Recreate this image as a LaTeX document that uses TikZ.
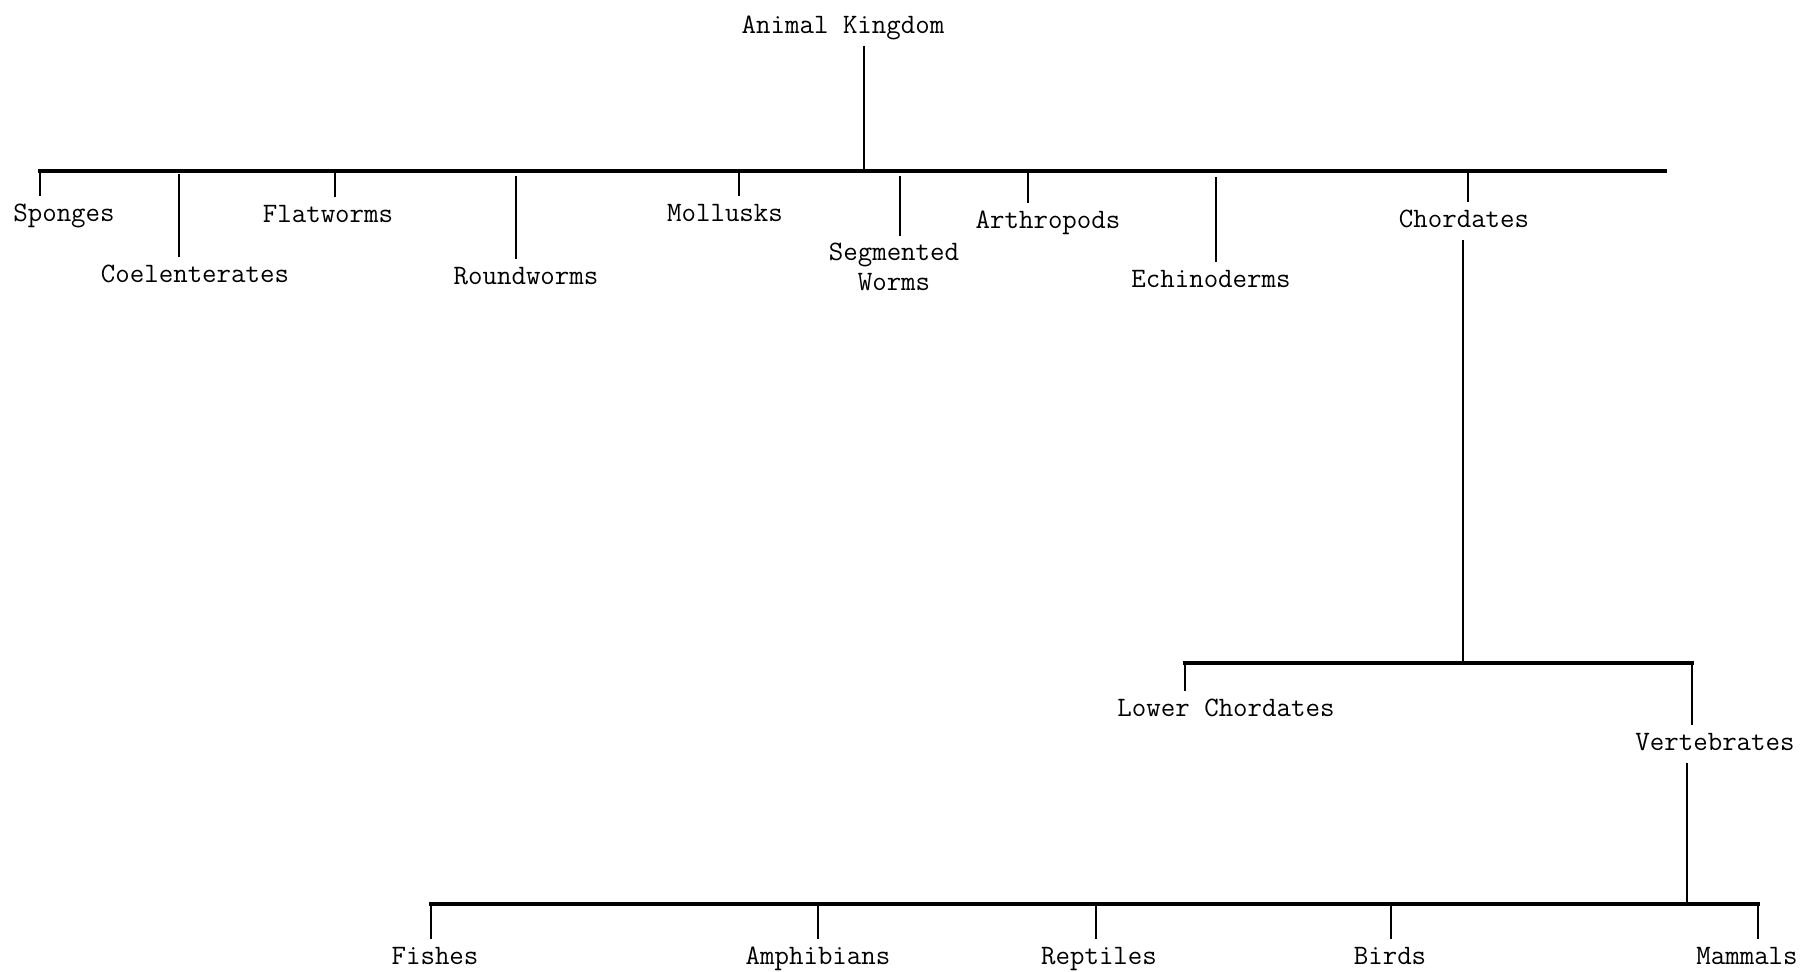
\documentclass[tikz,border=0pt]{standalone}
\usepackage{fontspec}
\begin{document}
\begin{tikzpicture}[x=0.02cm, y=-0.02cm,
    bar/.style={line width=1.9pt, line cap=rect},
    tick/.style={line width=1.2pt},
    lbl/.style={font=\fontsize{16}{17}\selectfont\ttfamily, anchor=base,
        text height=10pt, text depth=3pt, inner xsep=0pt, inner ysep=4pt}]
    % Frame
    \useasboundingbox (0,0) rectangle (1813,971);

    % Top of the tree
    \node[lbl] (kingdom) at (843,33) {Animal Kingdom};
    \coordinate (barL) at (40,171);
    \coordinate (barR) at (1665,171);
    \coordinate (kingJoin) at (864,171);
    \draw[bar] (barL) -- (barR);
    \draw[tick] (kingdom.south -| kingJoin) -- (kingJoin);

    % Phyla hanging from the main bar: name/tick x/tick top/label x/baseline/text
    \foreach \n/\tx/\ty/\lx/\ly/\txt in {
        sponges/40/171/64/221/Sponges,
        coel/179/174/195/282/Coelenterates,
        flat/335/171/328/222/Flatworms,
        round/516/176/526/284/Roundworms,
        moll/739/171/725/221/Mollusks,
        arth/1028/171/1048/228/Arthropods,
        echino/1216/177/1211/287/Echinoderms,
        chordates/1468/171/1464/227/Chordates} {
        \coordinate (\n-top) at (\tx,\ty);
        \node[lbl] (\n) at (\lx,\ly) {\txt};
        \draw[tick] (\n-top) -- (\n-top |- \n.north);
    }
    % two-line label
    \coordinate (seg-top) at (900,176);
    \node[lbl, anchor=north, align=center, text height=, text depth=] (seg) at (894,236)
        {Segmented\\Worms};
    \draw[tick] (seg-top) -- (seg-top |- seg.north);

    % Chordates split
    \coordinate (chordJoin) at (1463,663);
    \coordinate (chordL) at (1185,663);
    \coordinate (chordR) at (1692,663);
    \draw[tick] (chordates.south -| chordJoin) -- (chordJoin);
    \draw[bar] (chordL) -- (chordR);
    \node[lbl] (lower) at (1226,716) {Lower Chordates};
    \node[lbl] (vert) at (1715,750) {Vertebrates};
    \draw[tick] (chordL) -- (chordL |- lower.north);
    \draw[tick] (chordR) -- (chordR |- vert.north);

    % Vertebrate classes
    \coordinate (vertJoin) at (1687,904);
    \coordinate (classL) at (431,904);
    \coordinate (classR) at (1758,904);
    \draw[tick] (vert.south -| vertJoin) -- (vertJoin);
    \draw[bar] (classL) -- (classR);
    \foreach \n/\tx/\lx/\txt in {
        fishes/431/435/Fishes,
        amphib/818/818/Amphibians,
        rept/1096/1099/Reptiles,
        birds/1391/1390/Birds,
        mammals/1758/1747/Mammals} {
        \coordinate (\n-top) at (\tx,904);
        \node[lbl] (\n) at (\lx,964) {\txt};
        \draw[tick] (\n-top) -- (\n-top |- \n.north);
    }
\end{tikzpicture}
\end{document}
